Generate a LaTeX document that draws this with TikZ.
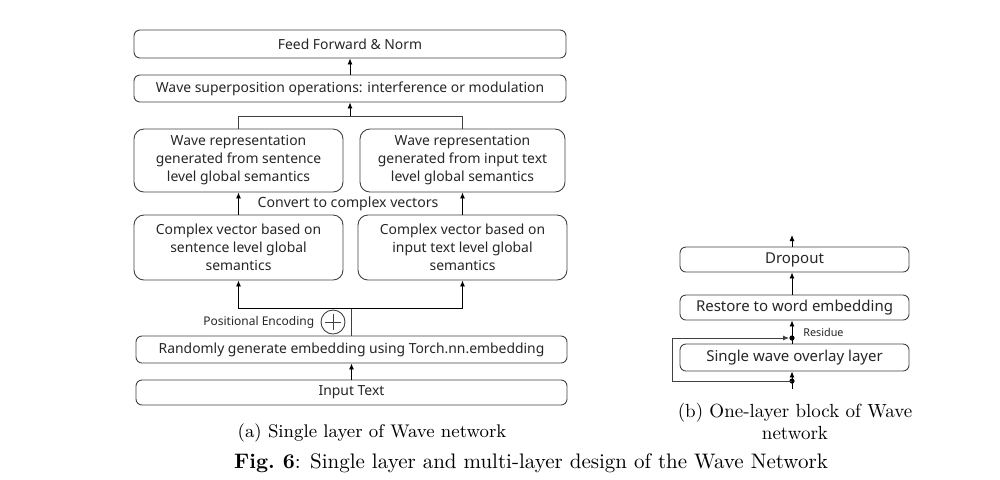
\documentclass[tikz,border=0pt]{standalone}
\usepackage{fontspec}
\newfontfamily\boxfont{Noto Sans}
\usetikzlibrary{arrows.meta}
\definecolor{boxgray}{HTML}{404040}
\definecolor{txtgray}{HTML}{262626}
\begin{document}
\begin{tikzpicture}[x=0.5pt,y=-0.5pt,
  box/.style={draw=boxgray, line width=0.45pt, rounded corners=3pt, align=center, inner sep=0pt,
     text=txtgray, font=\boxfont\fontsize{6.95}{9}\selectfont},
  bigbox/.style={box, rounded corners=5pt},
  rbox/.style={box, font=\boxfont\fontsize{7.5}{9}\selectfont},
  lbl/.style={inner sep=0pt, text=txtgray, font=\boxfont\fontsize{7.05}{9}\selectfont},
  slbl/.style={inner sep=0pt, text=txtgray, font=\boxfont\fontsize{6.0}{7.5}\selectfont},
  rlbl/.style={inner sep=0pt, text=txtgray, font=\boxfont\fontsize{5.4}{7}\selectfont},
  captxt/.style={inner sep=0pt, align=center, font=\fontsize{9.5}{11}\selectfont},
  arr/.style={line width=0.45pt, draw=black, -{Latex[length=3pt,width=2.5pt]}},
  ln/.style={line width=0.45pt, draw=boxgray},
  dot/.style={circle, fill=black, inner sep=0pt, minimum size=2.6pt}]
\useasboundingbox (0,0) rectangle (1000,479);
% left panel
\node[box, minimum width=216pt, minimum height=14pt] (feed) at (350,44) {Feed Forward \& Norm};
\node[box, minimum width=216pt, minimum height=13.5pt] (sup) at (350,88.5) {Wave superposition operations: interference or modulation};
\node[bigbox, minimum width=104.5pt, minimum height=31.5pt] (wl) at (238.5,160.5) {Wave representation\\generated from sentence\\level global semantics};
\node[bigbox, minimum width=102.5pt, minimum height=31.5pt] (wr) at (462.5,160.5) {Wave representation\\generated from input text\\level global semantics};
\node[lbl] (conv) at (348,204) {Convert to complex vectors};
\node[bigbox, minimum width=104.5pt, minimum height=32.5pt] (cl) at (238.5,247.5) {Complex vector based on\\sentence level global\\semantics};
\node[bigbox, minimum width=104.5pt, minimum height=32.5pt] (cr) at (462.5,247.5) {Complex vector based on\\input text level global\\semantics};
\node[box, minimum width=215.5pt, minimum height=13.5pt] (rand) at (351.5,349.5) {Randomly generate embedding using Torch.nn.embedding};
\node[box, minimum width=215.5pt, minimum height=12.5pt] (inp) at (351.5,392.5) {Input Text};
\node[circle, draw=boxgray, line width=0.45pt, minimum size=12pt, inner sep=0pt] (pe) at (333,322) {};
\draw[ln, line width=0.4pt] ([xshift=-3.8pt]pe.center) -- ([xshift=3.8pt]pe.center);
\draw[ln, line width=0.4pt] ([yshift=-3.8pt]pe.center) -- ([yshift=3.8pt]pe.center);
\node[slbl, anchor=east] (pel) at ([xshift=-3pt]pe.west) {Positional Encoding};
\coordinate (j1) at (350,116);
\coordinate (j2) at (351.5,308);
\draw[ln] (wl.north) |- (j1) -| (wr.north);
\draw[arr] (j1) -- (j1 |- sup.south);
\draw[arr] (sup.north -| j1) -- (feed.south -| j1);
\draw[arr] (cl.north) -- (wl.south);
\draw[arr] (cr.north) -- (wr.south);
\draw[ln] (rand.north) -- (j2);
\draw[arr] (j2) -| (cl.south);
\draw[arr] (j2) -| (cr.south);
\draw[arr] (inp.north) -- (rand.south);
\node[captxt, font=\fontsize{9.15}{11}\selectfont] (capa) at (372,433) {(a) Single layer of Wave network};
% right panel
\node[rbox, minimum width=114.5pt, minimum height=12.5pt] (drop) at (794.5,259.5) {Dropout};
\node[rbox, minimum width=114.5pt, minimum height=12.5pt] (rest) at (794.5,307.5) {Restore to word embedding};
\node[rbox, minimum width=114.5pt, minimum height=13.5pt] (single) at (794.5,357.5) {Single wave overlay layer};
\coordinate (c0) at (792,235);
\coordinate (cin) at (792,389);
\coordinate (rl1) at (672,381);
\coordinate (rl2) at (672,338);
\node[dot] (d1) at (792,338) {};
\node[dot] (d2) at (792,381) {};
\draw[arr] (c0 |- drop.north) -- (c0);
\draw[arr] (c0 |- rest.north) -- (c0 |- drop.south);
\draw[arr] (c0 |- single.north) -- (c0 |- rest.south);
\draw[arr] (cin) -- (cin |- single.south);
\draw[arr, draw=boxgray, line width=0.4pt] (d2.center) -- (rl1) -- (rl2) -- (d1.west);
\node[rlbl, anchor=west] (res) at (803,332) {Residue};
\node[captxt] (capb) at (795,421) {(b) One-layer block of Wave\\network};
\node[captxt, font=\fontsize{10.5}{12}\selectfont] (fig) at (531,463) {\textbf{Fig.\ 6}: Single layer and multi-layer design of the Wave Network};
\end{tikzpicture}
\end{document}
